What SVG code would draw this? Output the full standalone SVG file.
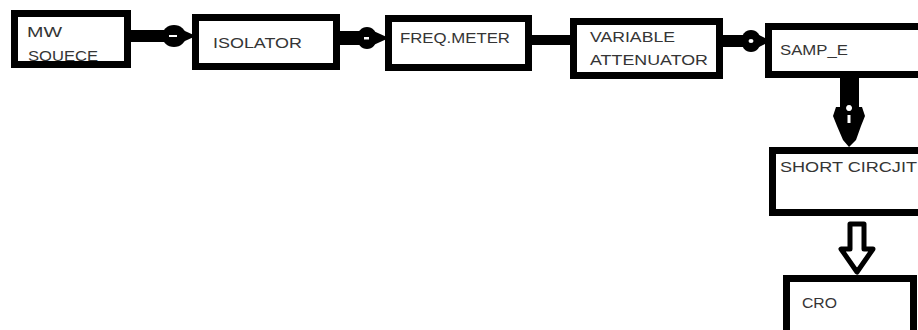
<svg xmlns="http://www.w3.org/2000/svg" width="918" height="330" viewBox="0 0 918 330">
<style>
.box{fill:#fff;stroke:#000;stroke-width:7}
.lbl{font-family:"Liberation Sans",Arial,sans-serif;font-size:15.5px;fill:#353535}
.blk{fill:#000}
.wht{fill:#fff}
</style>
<rect width="918" height="330" fill="#fff"/>
<g id="connectors">
  <!-- MW -> ISOLATOR -->
  <rect class="blk" x="128" y="30" width="38" height="12"/>
  <ellipse class="blk" cx="174" cy="36" rx="12" ry="11"/>
  <polygon class="blk" points="176,27 196,36 176,45"/>
  <rect class="wht" x="169" y="35" width="8" height="2"/>
  <!-- ISOLATOR -> FREQ.METER -->
  <rect class="blk" x="337" y="31" width="24" height="14"/>
  <ellipse class="blk" cx="367" cy="38" rx="10" ry="11"/>
  <polygon class="blk" points="369,29 389,38 369,47"/>
  <rect class="wht" x="364" y="37" width="5" height="2.5"/>
  <!-- FREQ.METER -> VARIABLE ATTENUATOR -->
  <rect class="blk" x="529" y="35" width="46" height="10"/>
  <!-- VARIABLE ATTENUATOR -> SAMPLE -->
  <rect class="blk" x="720" y="35" width="26" height="12"/>
  <ellipse class="blk" cx="751" cy="41" rx="10" ry="11"/>
  <polygon class="blk" points="753,32 771,41 753,50"/>
  <ellipse class="wht" cx="751" cy="41" rx="2.5" ry="2"/>
  <!-- SAMPLE -> SHORT CIRCUIT -->
  <rect class="blk" x="840" y="75" width="19" height="34"/>
  <path class="blk" d="M836,107 L862,107 L865,116 L861,126 L856,140 L849,147 L843,140 L837,126 L833,116 Z"/>
  <path class="wht" d="M849,111 a3,3 0 1 1 0.1,0 Z M847.5,115 h3 v8 h-3 Z"/>
  <!-- SHORT CIRCUIT -> CRO -->
  <path d="M850,224 H864 V249 H873 L857,272 L841,249 H850 Z" fill="#fff" stroke="#000" stroke-width="5" stroke-linejoin="round"/>
</g>
<g id="mw-source">
  <rect class="box" x="14.5" y="13.5" width="113" height="51"/>
  <text class="lbl" x="27" y="37" textLength="35" lengthAdjust="spacingAndGlyphs">MW</text>
  <text class="lbl" x="28" y="61" textLength="70" lengthAdjust="spacingAndGlyphs">SOUECE</text>
</g>
<g id="isolator">
  <rect class="box" x="195.5" y="17.5" width="141" height="49"/>
  <text class="lbl" x="213" y="48" textLength="89" lengthAdjust="spacingAndGlyphs">ISOLATOR</text>
</g>
<g id="freq-meter">
  <rect class="box" x="388.5" y="18.5" width="140" height="49"/>
  <text class="lbl" x="400" y="43" textLength="110" lengthAdjust="spacingAndGlyphs">FREQ.METER</text>
</g>
<g id="variable-attenuator">
  <rect class="box" x="573.5" y="21.5" width="146" height="54"/>
  <text class="lbl" x="590" y="42" textLength="85" lengthAdjust="spacingAndGlyphs">VARIABLE</text>
  <text class="lbl" x="590" y="65" textLength="118" lengthAdjust="spacingAndGlyphs">ATTENUATOR</text>
</g>
<g id="sample">
  <rect class="box" x="768.5" y="26.5" width="160" height="48"/>
  <text class="lbl" x="780" y="55" textLength="68" lengthAdjust="spacingAndGlyphs">SAMP_E</text>
</g>
<g id="short-circuit">
  <rect class="box" x="772.5" y="150.5" width="160" height="62"/>
  <text class="lbl" x="780" y="172" textLength="137" lengthAdjust="spacingAndGlyphs">SHORT CIRCJIT</text>
</g>
<g id="cro">
  <rect class="box" x="786.5" y="278.5" width="127" height="62"/>
  <text class="lbl" x="802" y="308" textLength="35" lengthAdjust="spacingAndGlyphs">CRO</text>
</g>
</svg>
